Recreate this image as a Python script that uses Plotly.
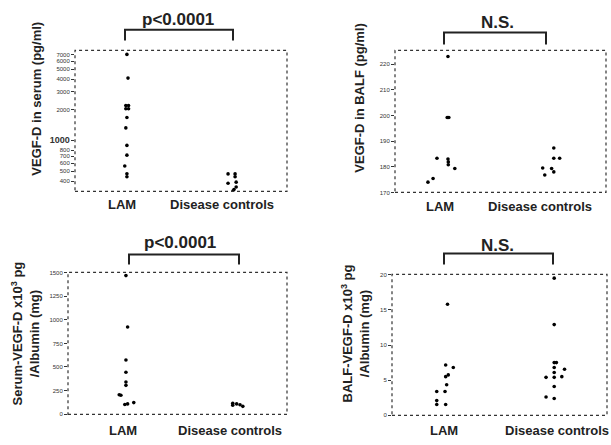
import plotly.graph_objects as go

W, H = 611, 445

groups = ["LAM", "Disease controls"]

# Panel A: VEGF-D in serum (pg/ml), log scale
a_lam = [7000, 4100, 2200, 2200, 2050, 2050, 1680, 1330, 895, 718, 562, 471, 441]
a_lam_jit = [0.0, 0.01, -0.01, 0.015, -0.01, 0.015, 0.0, -0.01, 0.0, 0.0, -0.02, 0.0, 0.0]
a_dc = [470, 380, 470, 440, 390, 350, 330, 318]
a_dc_jit = [-0.065, -0.065, 0.0, 0.0, 0.01, 0.01, -0.01, -0.02]
a_ticks = [400, 500, 600, 700, 800, 1000, 2000, 3000, 4000, 5000, 6000, 7000]

# Panel B: VEGF-D in BALF (pg/ml)
b_lam = [223, 199.2, 199.2, 183.3, 183.0, 181.9, 180.8, 179.3, 174.0, 175.4]
b_lam_jit = [0.037, 0.03, 0.045, -0.064, 0.037, 0.04, 0.04, 0.1, -0.147, -0.1]
b_dc = [187.3, 183.3, 183.3, 179.5, 179.3, 178.0, 176.8]
b_dc_jit = [0.01, 0.01, 0.064, -0.092, -0.01, 0.01, -0.073]
b_ticks = [170, 180, 190, 200, 210, 220]

# Panel C: Serum-VEGF-D x10^3 pg / Albumin (mg)
c_lam = [1470, 925, 575, 445, 340, 305, 205, 200, 102, 108, 122]
c_lam_jit = [0.0, 0.015, 0.0, 0.0, 0.0, 0.0, -0.06, -0.045, -0.01, 0.015, 0.07]
c_dc = [115, 95, 108, 100, 82]
c_dc_jit = [-0.045, -0.045, -0.01, 0.02, 0.045]
c_ticks = [0, 250, 500, 750, 1000, 1250, 1500]

# Panel D: BALF-VEGF-D x10^3 pg / Albumin (mg)
d_lam = [15.8, 7.15, 6.8, 5.75, 5.5, 4.35, 3.4, 3.4, 2.1, 1.55, 1.55]
d_lam_jit = [0.005, -0.012, 0.058, 0.012, -0.012, -0.003, -0.094, -0.018, -0.094, -0.094, -0.012]
d_dc = [19.5, 12.9, 7.5, 7.5, 6.8, 6.55, 6.1, 5.4, 5.4, 5.5, 4.1, 2.6, 2.4]
d_dc_jit = [-0.015, -0.015, -0.015, 0.005, -0.015, 0.08, -0.015, -0.09, -0.015, 0.055, -0.015, -0.09, -0.015]
d_ticks = [0, 5, 10, 15, 20]

sig_labels = ["p<0.0001", "N.S.", "p<0.0001", "N.S."]

# panel layout in pixels: (left, right, top, bottom)
boxes = [(75, 287, 48, 191), (395, 606, 48, 192), (68, 287, 273, 417), (392, 607, 275, 418)]
xranges = [[0.52, 2.48], [0.55, 2.49], [0.482, 2.44], [0.495, 2.47]]

def px(x):
    return x / W

def py(y):
    return 1 - y / H

fig = go.Figure()

panels = [
    (a_lam, a_lam_jit, a_dc, a_dc_jit),
    (b_lam, b_lam_jit, b_dc, b_dc_jit),
    (c_lam, c_lam_jit, c_dc, c_dc_jit),
    (d_lam, d_lam_jit, d_dc, d_dc_jit),
]

for i, (lv, lj, dv, dj) in enumerate(panels):
    ax = "" if i == 0 else str(i + 1)
    xs = [1 + j for j in lj] + [2 + j for j in dj]
    ys = lv + dv
    fig.add_trace(go.Scatter(x=xs, y=ys, mode="markers", xaxis="x" + ax, yaxis="y" + ax,
                             marker=dict(color="black", size=3.6, symbol="circle"),
                             showlegend=False, hoverinfo="skip"))

axis_common = dict(showgrid=False, zeroline=False, showline=False, ticks="outside",
                   ticklen=3, tickwidth=1, tickcolor="#333",
                   tickfont=dict(family="Liberation Sans", size=6, color="#333"))

lay = dict(width=W, height=H, margin=dict(l=0, r=0, t=0, b=0),
           paper_bgcolor="white", plot_bgcolor="white", showlegend=False)

yconf = [
    dict(type="log", range=[2.5, 3.885], tickvals=a_ticks,
         ticktext=[("<span style='font-size:9px'><b>%d</b></span>" % t) if t == 1000 else str(t) for t in a_ticks]),
    dict(range=[170, 225.4], tickvals=b_ticks),
    dict(range=[-3, 1505], tickvals=c_ticks),
    dict(range=[0, 20.05], tickvals=d_ticks),
]

shapes = []
annots = []
ytitles = [
    ("VEGF-D in serum (pg/ml)", 37, 97),
    ("VEGF-D in BALF (pg/ml)", 360, 97),
    ("Serum-VEGF-D x10<sup>3</sup> pg<br>/Albumin (mg)", 25, 335),
    ("BALF-VEGF-D x10<sup>3</sup> pg<br>/Albumin (mg)", 355, 335),
]
cat_label_px = [(122, 222, 204), (440, 540, 206), (123, 230, 433), (444, 557, 433)]
brackets = [(125, 233, 27, 38, 178, 17), (444, 546, 30, 42, 497, 20),
            (129, 239, 255, 265, 180, 243), (444, 553, 254, 265, 497, 246)]

for i in range(4):
    l, r, t, b = boxes[i]
    sfx = "" if i == 0 else str(i + 1)
    lay["xaxis" + sfx] = dict(domain=[px(l), px(r)], range=xranges[i], anchor="y" + sfx,
                              showticklabels=False, ticks="", showgrid=False, zeroline=False,
                              showline=False)
    yc = dict(axis_common)
    yc.update(yconf[i])
    yc.update(domain=[py(b), py(t)], anchor="x" + sfx)
    lay["yaxis" + sfx] = yc
    # dotted frame
    shapes.append(dict(type="rect", xref="paper", yref="paper", x0=px(l), x1=px(r),
                       y0=py(b), y1=py(t), line=dict(color="#333", width=1.2, dash="dot")))
    # category labels
    cl, cr, cy = cat_label_px[i]
    for name, cx in zip(groups, (cl, cr)):
        annots.append(dict(text="<b>" + name + "</b>", x=px(cx), y=py(cy), xref="paper", yref="paper",
                           showarrow=False, xanchor="center", yanchor="middle",
                           font=dict(family="Liberation Sans", size=13, color="#222")))
    # y title
    tt, tx, ty = ytitles[i]
    annots.append(dict(text="<b>" + tt + "</b>", x=px(tx), y=py(ty), xref="paper", yref="paper",
                       showarrow=False, textangle=-90, xanchor="center", yanchor="middle",
                       font=dict(family="Liberation Sans", size=13, color="#222")))
    # significance bracket
    bl, br, bt, bb, sx, sy = brackets[i]
    shapes.append(dict(type="path", xref="paper", yref="paper",
                       path="M %f %f L %f %f L %f %f L %f %f" % (px(bl), py(bb), px(bl), py(bt),
                                                                 px(br), py(bt), px(br), py(bb)),
                       line=dict(color="#222", width=2)))
    annots.append(dict(text="<b>" + sig_labels[i] + "</b>", x=px(sx), y=py(sy), xref="paper", yref="paper",
                       showarrow=False, xanchor="center", yanchor="middle",
                       font=dict(family="Liberation Sans", size=17, color="#222")))

lay["shapes"] = shapes
lay["annotations"] = annots
fig.update_layout(**lay)
fig.write_html("out.html")
